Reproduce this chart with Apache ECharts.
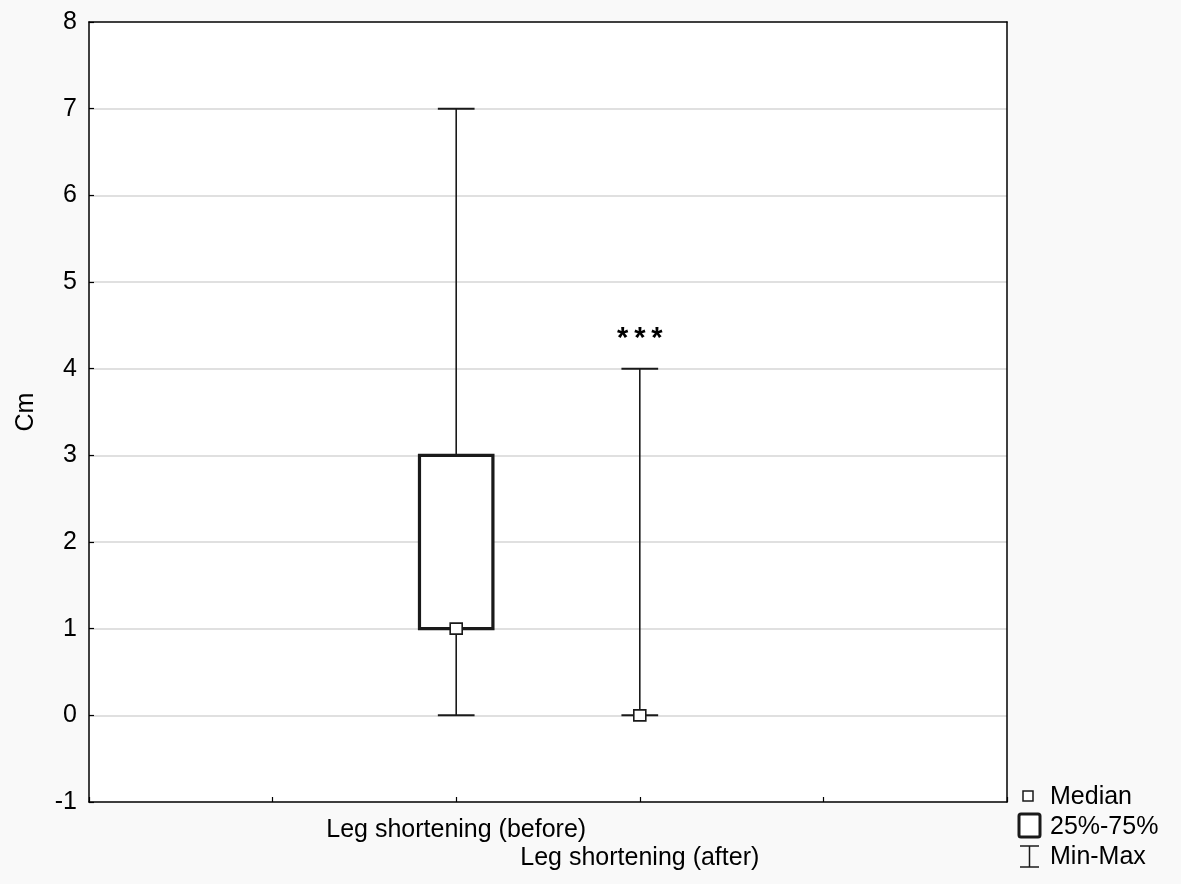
<!DOCTYPE html>
<html>
<head>
<meta charset="utf-8">
<script src="https://cdn.jsdelivr.net/npm/echarts@6/dist/echarts.min.js"></script>
<style>
html,body{margin:0;padding:0;background:#f9f9f9;}
#chart{width:1181px;height:884px;}
</style>
</head>
<body>
<div id="chart"></div>
<script>
// ---- data ----
const categories = ['Leg shortening (before)', 'Leg shortening (after)'];
const slotIndex = [2, 3];
const mins = [0, 0];
const q1s = [1, 0];
const medians = [1, 0];
const q3s = [3, 0];
const maxs = [7, 4];
const marks = ['', '***'];
const yMin = -1, yMax = 8, yStep = 1;
const xMin = 0, xMax = 5;
const legendItems = ['Median', '25%-75%', 'Min-Max'];

const FONT = 'Liberation Sans, Arial, Helvetica, sans-serif';
const INK = '#1a1a1a';
const FS = 25;

const chart = echarts.init(document.getElementById('chart'));

const seriesData = categories.map((c, i) => [slotIndex[i], mins[i], q1s[i], medians[i], q3s[i], maxs[i]]);

function renderBox(params, api) {
  const xv = api.value(0);
  const pMin = api.coord([xv, api.value(1)]);
  const pQ1 = api.coord([xv, api.value(2)]);
  const pMed = api.coord([xv, api.value(3)]);
  const pQ3 = api.coord([xv, api.value(4)]);
  const pMax = api.coord([xv, api.value(5)]);
  const band = api.size([1, 0])[0];
  const bw = band * 0.4, cw = band * 0.2;
  const x = pMin[0];
  const ls = { stroke: INK, lineWidth: 1.6 };
  const ch = [];
  ch.push({ type: 'line', shape: { x1: x, y1: pMax[1], x2: x, y2: pQ3[1] }, style: ls });
  ch.push({ type: 'line', shape: { x1: x, y1: pQ1[1], x2: x, y2: pMin[1] }, style: ls });
  ch.push({ type: 'line', shape: { x1: x - cw / 2, y1: pMax[1], x2: x + cw / 2, y2: pMax[1] }, style: { stroke: INK, lineWidth: 2 } });
  ch.push({ type: 'line', shape: { x1: x - cw / 2, y1: pMin[1], x2: x + cw / 2, y2: pMin[1] }, style: { stroke: INK, lineWidth: 2 } });
  if (pQ1[1] - pQ3[1] > 0.5) {
    ch.push({ type: 'rect', shape: { x: x - bw / 2, y: pQ3[1], width: bw, height: pQ1[1] - pQ3[1] },
      style: { fill: '#fff', stroke: INK, lineWidth: 3.2 } });
  }
  ch.push({ type: 'rect', shape: { x: x - 6, y: pMed[1] - 5.5, width: 12, height: 11 },
    style: { fill: '#fff', stroke: INK, lineWidth: 1.6 } });
  const m = marks[params.dataIndex];
  if (m) {
    ch.push({ type: 'text', x: x, y: pMax[1] - 30,
      style: { text: m.split('').join('\u2009'), fill: '#000', font: 'bold 29px ' + FONT, align: 'center', verticalAlign: 'middle' } });
  }
  return { type: 'group', children: ch };
}

// legend graphics (icons + text), bottom-right
const lgX = 1050;
const legendGraphic = [
  { type: 'rect', shape: { x: 1023, y: 791, width: 10, height: 10 }, style: { fill: '#fff', stroke: INK, lineWidth: 1.5 } },
  { type: 'rect', shape: { x: 1019, y: 814, width: 21, height: 23, r: 2 }, style: { fill: '#fff', stroke: INK, lineWidth: 3 } },
  { type: 'line', shape: { x1: 1020, y1: 846, x2: 1039, y2: 846 }, style: { stroke: INK, lineWidth: 1.5 } },
  { type: 'line', shape: { x1: 1029.5, y1: 846, x2: 1029.5, y2: 867 }, style: { stroke: INK, lineWidth: 1.5 } },
  { type: 'line', shape: { x1: 1020, y1: 867, x2: 1039, y2: 867 }, style: { stroke: INK, lineWidth: 1.5 } }
];
const legendY = [797, 827, 857];
legendItems.forEach((t, i) => {
  legendGraphic.push({ type: 'text', x: lgX, y: legendY[i],
    style: { text: t, fill: '#000', font: FS + 'px ' + FONT, align: 'left', verticalAlign: 'middle' } });
});

const frameAxis = {
  axisLine: { show: true, onZero: false, lineStyle: { color: '#000', width: 1.5 } },
  axisTick: { show: false }, axisLabel: { show: false }, splitLine: { show: false }
};

const option = {
  animation: false,
  backgroundColor: '#f9f9f9',
  grid: { left: 89, right: 174, top: 22, bottom: 82, show: true, backgroundColor: '#ffffff', borderColor: '#000', borderWidth: 0 },
  xAxis: [{
    type: 'value', min: xMin, max: xMax, interval: 1, position: 'bottom',
    axisLine: { show: true, onZero: false, lineStyle: { color: '#000', width: 1.5 } },
    axisTick: { show: true, inside: true, length: 5, lineStyle: { color: '#000', width: 1.2 } },
    splitLine: { show: false },
    axisLabel: {
      color: '#000', fontFamily: FONT, fontSize: FS, lineHeight: 28, margin: 14,
      formatter: function (v) {
        const i = slotIndex.indexOf(v);
        if (i < 0) return '';
        return i % 2 === 1 ? '\n' + categories[i] : categories[i];
      }
    }
  }, Object.assign({ type: 'value', min: xMin, max: xMax, position: 'top' }, frameAxis)],
  yAxis: [{
    type: 'value', min: yMin, max: yMax, interval: yStep, position: 'left',
    name: 'Cm', nameLocation: 'middle', nameGap: 50, nameRotate: 90,
    nameTextStyle: { color: '#000', fontFamily: FONT, fontSize: FS },
    axisLine: { show: true, onZero: false, lineStyle: { color: '#000', width: 1.5 } },
    axisTick: { show: true, inside: true, length: 5, lineStyle: { color: '#000', width: 1.2 } },
    splitLine: { show: true, showMinLine: false, showMaxLine: false, lineStyle: { color: '#d6d6d6', width: 1.6 } },
    axisLabel: { color: '#000', fontFamily: FONT, fontSize: FS, margin: 12 }
  }, Object.assign({ type: 'value', min: yMin, max: yMax, position: 'right' }, frameAxis)],
  series: [{
    type: 'custom',
    renderItem: renderBox,
    data: seriesData,
    encode: { x: 0, y: [1, 2, 3, 4, 5] },
    clip: false,
    z: 20
  }],
  graphic: legendGraphic
};
chart.setOption(option);
</script>
</body>
</html>
